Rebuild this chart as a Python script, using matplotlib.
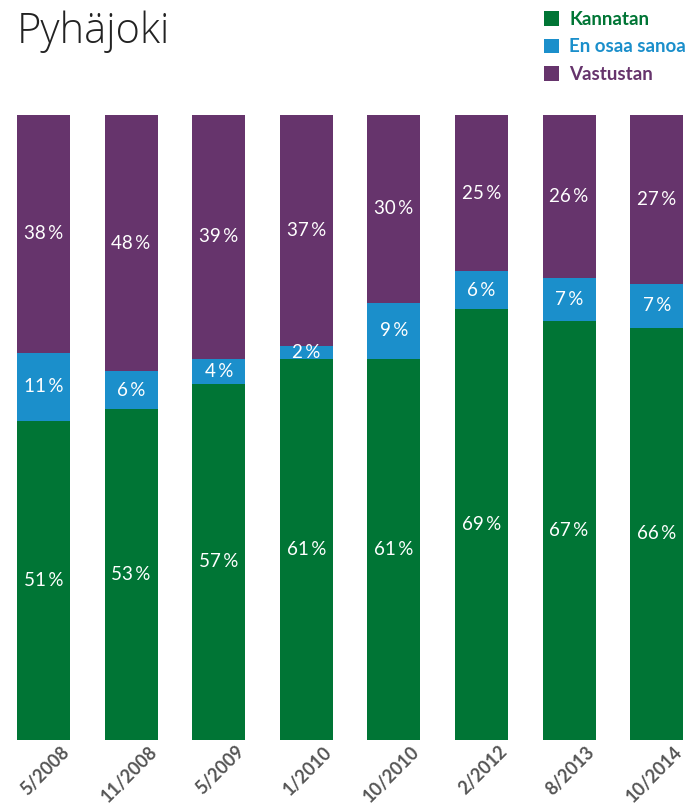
import matplotlib
matplotlib.use("Agg")
import matplotlib.pyplot as plt
import matplotlib.transforms as mtransforms
import numpy as np

categories = ["5/2008", "11/2008", "5/2009", "1/2010", "10/2010", "2/2012", "8/2013", "10/2014"]
kannatan = [51, 53, 57, 61, 61, 69, 67, 66]
en_osaa = [11, 6, 4, 2, 9, 6, 7, 7]
vastustan = [38, 48, 39, 37, 30, 25, 26, 27]
series_names = ["Kannatan", "En osaa sanoa", "Vastustan"]
colors = ["#007535", "#1b8fcb", "#66346c"]

W, H = 691, 807
fig = plt.figure(figsize=(W / 100, H / 100), dpi=100)
ax = fig.add_axes([0, 1 - 740 / H, 1, (740 - 115) / H])

x = np.arange(len(categories))
step = 87.6
ax.set_xlim(-43.5 / step, (W - 43.5) / step)
ax.set_ylim(0, 100)
bw = 53 / step

bottoms = np.zeros(len(categories))
handles = []
for vals, col in zip([kannatan, en_osaa, vastustan], colors):
    vals = np.array(vals, dtype=float)
    bars = ax.bar(x, vals, bottom=bottoms, width=bw, color=col, linewidth=0)
    handles.append(bars)
    for xi, b, v in zip(x, bottoms, vals):
        top = min(b + v, 100)
        ax.text(xi, (b + top) / 2, f"{int(v)}\u2009%", ha="center", va="center",
                color="white", fontsize=13.5, family="Lato")
    bottoms += vals

for s in ax.spines.values():
    s.set_visible(False)
ax.set_yticks([])
ax.set_xticks(x)
ax.set_xticklabels(categories, rotation=45, ha="right", va="top", rotation_mode="anchor",
                   fontsize=13, fontweight="bold", color="#555555", family="Lato")
ax.tick_params(axis="x", length=0, pad=0)
offset = mtransforms.ScaledTranslation(17 / 100, -3 / 100, fig.dpi_scale_trans)
for lbl in ax.get_xticklabels():
    lbl.set_transform(lbl.get_transform() + offset)

fig.text(17 / W, 1 - 43 / H, "Pyhäjoki", fontsize=30, family="Open Sans", fontweight="light",
         color="#222222", ha="left", va="baseline")

leg = fig.legend(handles, series_names, loc="upper left",
                 bbox_to_anchor=(544 / W, 1 - 11 / H), frameon=False,
                 borderpad=0, borderaxespad=0,
                 handlelength=0.8, handleheight=0.8, handletextpad=0.55,
                 labelspacing=0.56, prop={"family": "Lato", "weight": "bold", "size": 13.5})
for t, c in zip(leg.get_texts(), colors):
    t.set_color(c)

fig.savefig("out.png", dpi=100)
